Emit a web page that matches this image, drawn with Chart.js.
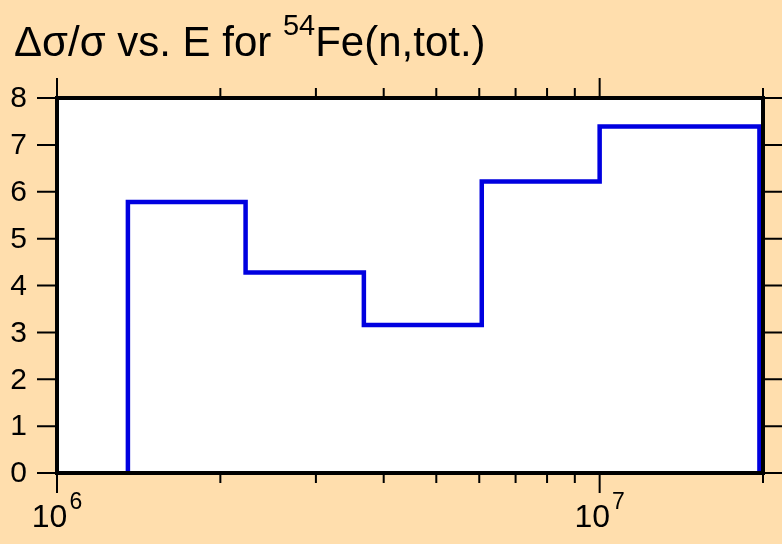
<!DOCTYPE html>
<html>
<head>
<meta charset="utf-8">
<script src="https://cdn.jsdelivr.net/npm/chart.js@4/dist/chart.umd.min.js"></script>
<style>
	html, body { margin: 0; padding: 0; background: #ffdead; }
	#wrap { width: 782px; height: 544px; }
</style>
</head>
<body>
<div id="wrap"><canvas id="stepChart" width="782" height="544"></canvas></div>
<script>
(function () {
	'use strict';

	// bin edges (eV) and relative uncertainty (%) per bin
	var binEdges = [1.351e6, 2.226e6, 3.677e6, 6.064e6, 1.0e7, 1.97e7];
	var binValues = [5.78, 4.28, 3.16, 6.22, 7.39];

	var xMajorTicks = [1e6, 1e7];
	var xMajorExponents = ['6', '7'];
	var xMinorTicks = [2e6, 3e6, 4e6, 5e6, 6e6, 7e6, 8e6, 9e6, 2e7];
	var yTicks = [0, 1, 2, 3, 4, 5, 6, 7, 8];
	var yTickLabels = ['0', '1', '2', '3', '4', '5', '6', '7', '8'];

	var fontFamily = '"Liberation Sans", Arial, sans-serif';

	// step outline: rise at first edge, fall at last edge
	var points = [{ x: binEdges[0], y: 0 }];
	for (var i = 0; i < binValues.length; i++) {
		points.push({ x: binEdges[i], y: binValues[i] });
	}
	points.push({ x: binEdges[binEdges.length - 1], y: 0 });

	var framePlugin = {
		id: 'frame',
		beforeDraw: function (chart) {
			var ctx = chart.ctx,
				a = chart.chartArea;
			ctx.save();
			ctx.fillStyle = '#ffdead';
			ctx.fillRect(0, 0, chart.width, chart.height);
			ctx.fillStyle = '#ffffff';
			ctx.fillRect(a.left, a.top, a.right - a.left, a.bottom - a.top);
			ctx.restore();
		},
		afterDatasetsDraw: function (chart) {
			var ctx = chart.ctx,
				a = chart.chartArea,
				xs = chart.scales.x,
				ys = chart.scales.y;

			ctx.save();
			ctx.strokeStyle = '#000';
			ctx.lineWidth = 2;
			ctx.beginPath();
			// x ticks, top and bottom, pointing outward
			xMajorTicks.forEach(function (v) {
				var px = xs.getPixelForValue(v);
				ctx.moveTo(px, a.top); ctx.lineTo(px, a.top - 20);
				ctx.moveTo(px, a.bottom); ctx.lineTo(px, a.bottom + 20);
			});
			xMinorTicks.forEach(function (v) {
				var px = xs.getPixelForValue(v);
				ctx.moveTo(px, a.top); ctx.lineTo(px, a.top - 10);
				ctx.moveTo(px, a.bottom); ctx.lineTo(px, a.bottom + 10);
			});
			// y ticks, left and right
			yTicks.forEach(function (v) {
				var py = ys.getPixelForValue(v);
				ctx.moveTo(a.left, py); ctx.lineTo(a.left - 20, py);
				ctx.moveTo(a.right, py); ctx.lineTo(a.right + 20, py);
			});
			ctx.stroke();

			ctx.lineWidth = 4;
			ctx.strokeRect(a.left, a.top, a.right - a.left, a.bottom - a.top);

			// y labels
			ctx.fillStyle = '#000';
			ctx.font = '30px ' + fontFamily;
			ctx.textAlign = 'right';
			ctx.textBaseline = 'middle';
			yTicks.forEach(function (v, k) {
				ctx.fillText(yTickLabels[k], a.left - 30, ys.getPixelForValue(v) + 1);
			});

			// x labels 10^n
			ctx.textAlign = 'left';
			ctx.textBaseline = 'alphabetic';
			xMajorTicks.forEach(function (v, k) {
				var px = xs.getPixelForValue(v);
				ctx.font = '32px ' + fontFamily;
				var wBase = ctx.measureText('10').width;
				ctx.font = '23px ' + fontFamily;
				var wExp = ctx.measureText(xMajorExponents[k]).width;
				var x0 = px - (wBase + 2 + wExp) / 2;
				ctx.font = '32px ' + fontFamily;
				ctx.fillText('10', x0, a.bottom + 54);
				ctx.font = '23px ' + fontFamily;
				ctx.fillText(xMajorExponents[k], x0 + wBase + 2, a.bottom + 36);
			});

			// title with superscript mass number
			var tx = 14;
			ctx.font = '42px ' + fontFamily;
			ctx.fillText('\u0394\u03c3/\u03c3 vs. E for ', tx, 56);
			tx += ctx.measureText('\u0394\u03c3/\u03c3 vs. E for ').width;
			ctx.font = '29px ' + fontFamily;
			ctx.fillText('54', tx, 35);
			tx += ctx.measureText('54').width;
			ctx.font = '42px ' + fontFamily;
			ctx.fillText('Fe(n,tot.)', tx, 56);
			ctx.restore();
		}
	};

	var chart = new Chart(document.getElementById('stepChart'), {
		type: 'line',
		data: {
			datasets: [{
				data: points,
				stepped: 'before',
				borderColor: '#0000e0',
				borderWidth: 4.5,
				pointRadius: 0,
				fill: false
			}]
		},
		options: {
			responsive: false,
			devicePixelRatio: 1,
			animation: false,
			layout: {
				padding: { left: 57, top: 98, right: 19, bottom: 71 }
			},
			plugins: {
				legend: { display: false },
				tooltip: { enabled: false }
			},
			scales: {
				x: { type: 'logarithmic', min: 1e6, max: 2e7, display: false },
				y: { type: 'linear', min: 0, max: 8, display: false }
			}
		},
		plugins: [framePlugin]
	});
})();
</script>
</body>
</html>
